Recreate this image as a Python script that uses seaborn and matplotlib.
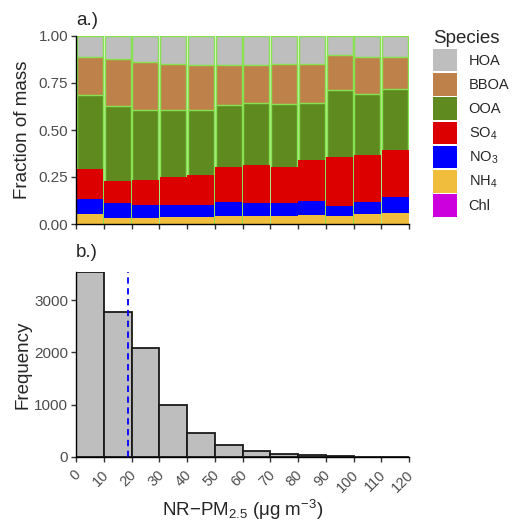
import numpy as np
import pandas as pd
import matplotlib
matplotlib.use("Agg")
import matplotlib.pyplot as plt
import matplotlib.transforms as mtransforms
from matplotlib.patches import Patch
import seaborn as sns

# ---- data -------------------------------------------------------------
bin_edges = [0, 10, 20, 30, 40, 50, 60, 70, 80, 90, 100, 110, 120]
bin_labels = ["0-10", "10-20", "20-30", "30-40", "40-50", "50-60",
              "60-70", "70-80", "80-90", "90-100", "100-110", "110-120"]

# mass fraction of each species per NR-PM2.5 bin
chl = [0.002] * 12
nh4 = [0.050, 0.032, 0.032, 0.035, 0.035, 0.042, 0.042, 0.041, 0.044, 0.042, 0.050, 0.057]
no3 = [0.081, 0.076, 0.069, 0.066, 0.066, 0.071, 0.070, 0.067, 0.075, 0.054, 0.065, 0.085]
so4 = [0.157, 0.119, 0.130, 0.146, 0.155, 0.187, 0.199, 0.192, 0.220, 0.257, 0.249, 0.247]
ooa = [0.396, 0.396, 0.376, 0.360, 0.351, 0.332, 0.330, 0.334, 0.302, 0.357, 0.328, 0.327]
bboa = [0.200, 0.251, 0.252, 0.240, 0.235, 0.210, 0.204, 0.215, 0.208, 0.187, 0.196, 0.168]
hoa = [0.114, 0.124, 0.139, 0.151, 0.156, 0.156, 0.153, 0.149, 0.149, 0.101, 0.110, 0.114]

# histogram counts of NR-PM2.5 per bin, and the mean concentration
counts = [3540, 2775, 2087, 1002, 456, 225, 109, 64, 32, 10, 4, 2]
mean_pm = 18.9

species = ["HOA", "BBOA", "OOA", "SO4", "NO3", "NH4", "Chl"]
species_labels = ["HOA", "BBOA", "OOA", "SO$_4$", "NO$_3$", "NH$_4$", "Chl"]
species_colors = ["#BEBEBE", "#BF814A", "#5E8A20", "#DD0000", "#0000FF", "#F0BE3C", "#CC00DD"]

# ---- style ------------------------------------------------------------
sns.set_style("ticks")
plt.rcParams["font.family"] = ["Liberation Sans", "DejaVu Sans"]
plt.rcParams["mathtext.fontset"] = "custom"
plt.rcParams["mathtext.rm"] = "Liberation Sans"
plt.rcParams["mathtext.it"] = "Liberation Sans:italic"
plt.rcParams["mathtext.bf"] = "Liberation Sans:bold"
tick_col = "#4D4D4D"
tick_fs = 11
title_fs = 13.5

fig = plt.figure(figsize=(5.18, 5.23), dpi=100)
W, H = 518, 523


def px_axes(left, top, right, bottom):
    return fig.add_axes([left / W, 1 - bottom / H, (right - left) / W, (bottom - top) / H])


ax1 = px_axes(76, 36, 409, 224)
ax2 = px_axes(76, 272, 409, 457)

# ---- panel a: stacked composition bars --------------------------------
comp = pd.DataFrame({"bin": bin_labels, "Chl": chl, "NH4": nh4, "NO3": no3,
                     "SO4": so4, "OOA": ooa, "BBOA": bboa, "HOA": hoa})
stack_order = ["Chl", "NH4", "NO3", "SO4", "OOA", "BBOA", "HOA"]
cum = comp[stack_order].cumsum(axis=1)
cum = cum.div(cum["HOA"], axis=0)
cum["bin"] = bin_labels

color_of = dict(zip(species, species_colors))
edge_green = "#86E24E"
for sp in reversed(stack_order):
    organic = sp in ("HOA", "BBOA", "OOA")
    sns.barplot(data=cum, x="bin", y=sp, order=bin_labels, color=color_of[sp],
                saturation=1, errorbar=None, ax=ax1,
                width=0.945 if organic else 0.965,
                edgecolor=edge_green if organic else "none",
                linewidth=1.0 if organic else 0)

ax1.set_xlim(-0.5, 11.5)
ax1.set_ylim(0, 1)
ax1.set_xticks(np.arange(-0.5, 12, 1))
ax1.set_xticklabels([])
ax1.set_yticks([0, 0.25, 0.5, 0.75, 1.0])
ax1.set_yticklabels(["0.00", "0.25", "0.50", "0.75", "1.00"])
ax1.set_xlabel("")
ax1.set_ylabel("Fraction of mass", fontsize=title_fs)

# ---- panel b: histogram -----------------------------------------------
mids = [(a + b) / 2 for a, b in zip(bin_edges[:-1], bin_edges[1:])]
sns.histplot(x=mids, weights=counts, bins=bin_edges, color="#BEBEBE",
             edgecolor="#1A1A1A", linewidth=1.3, alpha=1, ax=ax2)
ax2.axvline(mean_pm, color="#0000FF", linestyle=(0, (3.5, 2.5)), linewidth=1.3)
ax2.set_xlim(0, 120)
ax2.set_ylim(0, max(counts))
ax2.set_xticks(bin_edges)
ax2.set_yticks([0, 1000, 2000, 3000])
ax2.set_xlabel("NR\u2212PM$_{2.5}$ (\u03bcg m$^{-3}$)", fontsize=title_fs, labelpad=2.5)
ax2.set_ylabel("Frequency", fontsize=title_fs)

for ax in (ax1, ax2):
    sns.despine(ax=ax)
    for s in ("left", "bottom"):
        ax.spines[s].set_color("black")
        ax.spines[s].set_linewidth(1.0)
    ax.tick_params(axis="both", direction="out", length=3.5, width=1.0,
                   color="#333333", labelcolor=tick_col, labelsize=tick_fs, pad=2)
    ax.yaxis.set_label_coords(-0.135, 0.5)
    ax.grid(False)

ax2.tick_params(axis="x", pad=4, labelsize=10.5)

# rotated concentration labels, nudged right so each ends just past its tick
ax2.set_xticklabels([str(v) for v in bin_edges], rotation=45, ha="right", va="top")
shift = mtransforms.ScaledTranslation(7.5 / 100, 0, fig.dpi_scale_trans)
for lab in ax2.get_xticklabels():
    lab.set_transform(lab.get_transform() + shift)

# panel tags
fig.text(76 / W, 1 - 25 / H, "a.)", fontsize=title_fs, ha="left", va="baseline")
fig.text(76 / W, 1 - 257 / H, "b.)", fontsize=title_fs, ha="left", va="baseline")

# ---- legend -----------------------------------------------------------
handles = [Patch(facecolor=c, edgecolor="none") for c in species_colors]
fig.legend(handles, species_labels, title="Species", loc="upper left",
           bbox_to_anchor=(433 / W, 1 - 30 / H), frameon=False, fontsize=10.5,
           title_fontsize=title_fs, handlelength=1.65, handleheight=2.0,
           labelspacing=0.12, handletextpad=0.8, borderpad=0, borderaxespad=0,
           alignment="left")

fig.savefig("out.png", dpi=100)
